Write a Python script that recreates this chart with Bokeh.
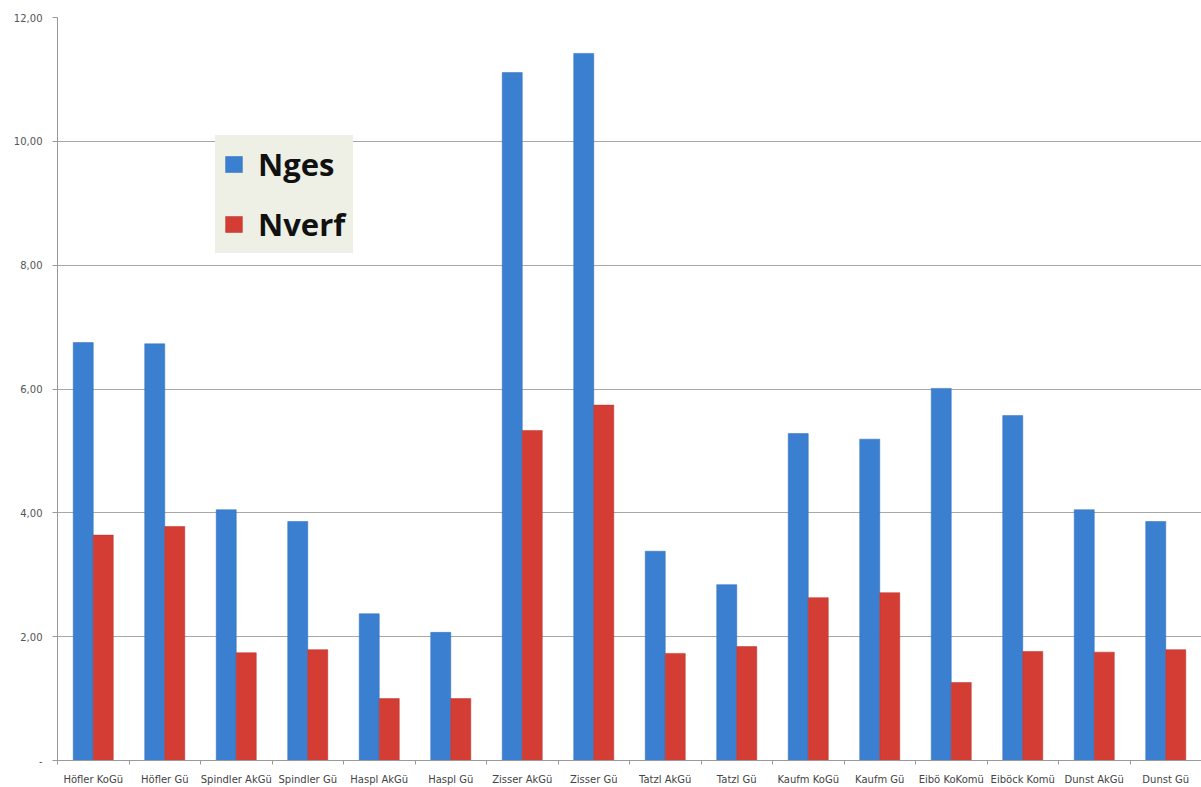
from bokeh.plotting import figure
from bokeh.models import ColumnDataSource, FixedTicker, Range1d, Legend, LegendItem
from bokeh.transform import dodge
from bokeh.embed import file_html
from bokeh.resources import INLINE

categories = ["Höfler KoGü", "Höfler Gü", "Spindler AkGü", "Spindler Gü",
              "Haspl AkGü", "Haspl Gü", "Zisser AkGü", "Zisser Gü",
              "Tatzl AkGü", "Tatzl Gü", "Kaufm KoGü", "Kaufm Gü",
              "Eibö KoKomü", "Eiböck Komü", "Dunst AkGü", "Dunst Gü"]
nges = [6.75, 6.73, 4.05, 3.86, 2.37, 2.07, 11.11, 11.42,
        3.38, 2.84, 5.28, 5.19, 6.01, 5.57, 4.05, 3.86]
nverf = [3.64, 3.78, 1.74, 1.79, 1.00, 1.00, 5.33, 5.74,
         1.73, 1.84, 2.63, 2.71, 1.26, 1.76, 1.75, 1.79]
y_ticks = [0, 2, 4, 6, 8, 10, 12]
y_tick_labels = ["-", "2,00", "4,00", "6,00", "8,00", "10,00", "12,00"]

idx = list(range(len(categories)))
src = ColumnDataSource(dict(x=idx, nges=nges, nverf=nverf))

p = figure(width=1201, height=787, output_backend="svg", toolbar_location=None,
           x_range=Range1d(-0.5, len(categories) - 0.5), y_range=Range1d(0, 12),
           min_border_left=57, min_border_right=0, min_border_top=17, min_border_bottom=27)
p.outline_line_color = None
p.background_fill_color = "white"

r1 = p.vbar(x=dodge("x", -0.14, range=p.x_range), top="nges", width=0.28, source=src,
            fill_color="#3b7fd1", line_color="#2f6db9", line_width=0.5)
r2 = p.vbar(x=dodge("x", 0.14, range=p.x_range), top="nverf", width=0.28, source=src,
            fill_color="#d33d34", line_color="#b8322b", line_width=0.5)

# axes
p.xaxis.ticker = FixedTicker(ticks=idx, minor_ticks=[i - 0.5 for i in range(len(categories) + 1)])
p.xaxis.major_label_overrides = {i: c for i, c in zip(idx, categories)}
p.xaxis.major_tick_line_color = None
p.xaxis.major_tick_out = 0
p.xaxis.major_tick_in = 0
p.xaxis.minor_tick_in = 0
p.xaxis.minor_tick_out = 4
p.xaxis.minor_tick_line_color = "#9a9a9a"
p.xaxis.axis_line_color = "#9a9a9a"
p.xaxis.major_label_text_font = "DejaVu Sans"
p.xaxis.major_label_text_font_size = "10px"
p.xaxis.major_label_text_color = "#444444"
p.xaxis.major_label_standoff = 9

p.yaxis.ticker = FixedTicker(ticks=y_ticks, minor_ticks=[])
p.yaxis.major_label_overrides = {t: l for t, l in zip(y_ticks, y_tick_labels)}
p.yaxis.major_tick_in = 0
p.yaxis.major_tick_out = 5
p.yaxis.major_tick_line_color = "#9a9a9a"
p.yaxis.axis_line_color = "#9a9a9a"
p.yaxis.major_label_text_font = "DejaVu Sans"
p.yaxis.major_label_text_font_size = "10px"
p.yaxis.major_label_text_color = "#555555"
p.yaxis.major_label_standoff = 10

p.xgrid.grid_line_color = None
p.ygrid.grid_line_color = "#a8a8a8"
p.ygrid.grid_line_width = 1

legend = Legend(items=[LegendItem(label="Nges", renderers=[r1]),
                       LegendItem(label="Nverf", renderers=[r2])],
                location=(158, 507))
legend.background_fill_color = "#eef0e6"
legend.background_fill_alpha = 1
legend.border_line_color = "#eef0e6"
legend.border_line_width = 6
legend.label_text_font = "Open Sans"
legend.label_text_font_style = "bold"
legend.label_text_font_size = "31px"
legend.label_text_color = "#111111"
legend.glyph_width = 21
legend.glyph_height = 20
legend.label_height = 30
legend.spacing = 18
legend.padding = 2
legend.margin = 0
legend.label_standoff = 14
p.add_layout(legend)

open("out.html", "w").write(file_html(p, INLINE))
